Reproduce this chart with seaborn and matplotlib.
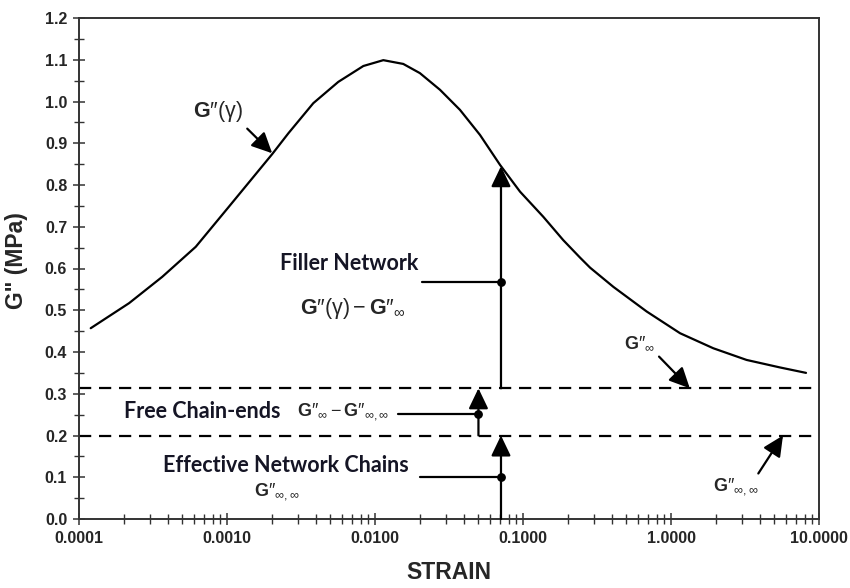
import numpy as np
import matplotlib
matplotlib.use("Agg")
import matplotlib.pyplot as plt
import seaborn as sns
from matplotlib.ticker import LogLocator, MultipleLocator, NullFormatter

# G''(strain) curve
strain = [0.000120, 0.000218, 0.000365, 0.000615, 0.00103, 0.00202, 0.00260,
          0.00383, 0.00565, 0.00834, 0.01138, 0.01552, 0.0201, 0.0275,
          0.0375, 0.0512, 0.0700, 0.0955, 0.137, 0.187, 0.243, 0.284,
          0.408, 0.685, 1.151, 1.93, 3.24, 5.45, 8.17]
g_loss = [0.457, 0.517, 0.580, 0.652, 0.748, 0.874, 0.924,
          0.996, 1.047, 1.085, 1.099, 1.090, 1.068, 1.028,
          0.980, 0.920, 0.848, 0.784, 0.724, 0.668, 0.626, 0.602,
          0.556, 0.497, 0.445, 0.409, 0.381, 0.363, 0.350]

# plateau levels (dashed lines)
g_inf = 0.313
g_inf_inf = 0.20

# contribution arrows: strain position, tip value, dot value
filler_x, filler_tip, filler_dot = 0.071, 0.845, 0.568
ends_x, ends_dot = 0.05, 0.251
network_x, network_dot = 0.071, 0.10

x_ticks = [0.0001, 0.001, 0.01, 0.1, 1, 10]
x_labels = ["0.0001", "0.0010", "0.0100", "0.1000", "1.0000", "10.0000"]
y_ticks = [0.0, 0.1, 0.2, 0.3, 0.4, 0.5, 0.6, 0.7, 0.8, 0.9, 1.0, 1.1, 1.2]
y_labels = ["0.0", "0.1", "0.2", "0.3", "0.4", "0.5", "0.6", "0.7", "0.8", "0.9", "1.0", "1.1", "1.2"]

sns.set_style("ticks")
plt.rcParams["font.family"] = ["Liberation Sans", "DejaVu Sans"]
plt.rcParams["mathtext.fontset"] = "custom"
plt.rcParams["mathtext.rm"] = "Liberation Sans"
plt.rcParams["mathtext.bf"] = "Liberation Sans:bold"
plt.rcParams["mathtext.it"] = "Liberation Sans:italic"
plt.rcParams["mathtext.fallback"] = "stixsans"

fig = plt.figure(figsize=(8.5, 5.88), dpi=100)
ax = fig.add_axes([79 / 850, 69 / 588, 740 / 850, 501 / 588])

sns.lineplot(x=strain, y=g_loss, ax=ax, color="black", lw=1.6, sort=False, estimator=None)

dash = (5.5, 3.5)
ax.axhline(g_inf, color="black", lw=1.6, dashes=dash)
ax.axhline(g_inf_inf, color="black", lw=1.6, dashes=dash)

ax.set_xscale("log")
ax.set_xlim(0.0001, 10)
ax.set_ylim(0, 1.2)

arrow = dict(arrowstyle="-|>,head_length=1.25,head_width=0.6", mutation_scale=10,
             lw=1.6, color="black", shrinkA=0, shrinkB=0)

# vertical arrows for each contribution
ax.annotate("", xy=(filler_x, filler_tip), xytext=(filler_x, g_inf), arrowprops=arrow)
ax.annotate("", xy=(ends_x, g_inf), xytext=(ends_x, g_inf_inf), arrowprops=arrow)
ax.annotate("", xy=(network_x, g_inf_inf), xytext=(network_x, 0), arrowprops=arrow)

# leader lines and dots
ax.plot([0.0207, filler_x], [filler_dot, filler_dot], color="black", lw=1.6)
ax.plot([0.0144, ends_x], [ends_dot, ends_dot], color="black", lw=1.6)
ax.plot([0.0202, network_x], [network_dot, network_dot], color="black", lw=1.6)
ax.scatter([filler_x, ends_x, network_x], [filler_dot, ends_dot, network_dot],
           s=28, color="black", zorder=5)

# pointer arrows
ax.annotate("", xy=(0.00202, 0.876), xytext=(0.00137, 0.935), arrowprops=arrow)
ax.annotate("", xy=(1.34, g_inf), xytext=(0.83, 0.389), arrowprops=arrow)
ax.annotate("", xy=(5.71, g_inf_inf), xytext=(3.89, 0.109), arrowprops=arrow)

lbl = dict(family=["Lato", "DejaVu Sans"], fontweight="bold", fontsize=15.5, color="#151525")
big, small = 15.5, 13
G = r"\mathbf{G}\mathrm{″}"
ax.text(0.000869, 0.977, "$" + G + r"\mathrm{(γ)}$", fontsize=big, ha="center", va="center")
ax.text(0.00667, 0.613, "Filler Network", ha="center", va="center", **lbl)
ax.text(0.00709, 0.505, "$" + G + r"\mathrm{(γ)} - " + G + r"_{\infty}$",
        fontsize=big, ha="center", va="center")
ax.text(0.000201, 0.257, "Free Chain-ends", ha="left", va="center", **lbl)
ax.text(0.00296, 0.257, "$" + G + r"_{\infty} - " + G + r"_{\infty,\infty}$",
        fontsize=small, ha="left", va="center")
ax.text(0.00251, 0.129, "Effective Network Chains", ha="center", va="center", **lbl)
ax.text(0.00217, 0.066, "$" + G + r"_{\infty,\infty}$", fontsize=small, ha="center", va="center")
ax.text(0.608, 0.422, "$" + G + r"_{\infty}$", fontsize=small, ha="center", va="center")
ax.text(2.75, 0.078, "$" + G + r"_{\infty,\infty}$", fontsize=small, ha="center", va="center")

# axes and ticks
ax.set_xticks(x_ticks)
ax.set_xticklabels(x_labels, fontsize=11.5, fontweight="bold")
ax.xaxis.set_minor_locator(LogLocator(base=10, subs=np.arange(2, 10)))
ax.xaxis.set_minor_formatter(NullFormatter())
ax.set_yticks(y_ticks)
ax.set_yticklabels(y_labels, fontsize=11.5, fontweight="bold")
ax.yaxis.set_minor_locator(MultipleLocator(0.05))
ax.tick_params(which="major", direction="inout", length=9, width=1.1, color="#333333", pad=4)
ax.tick_params(which="minor", direction="inout", length=7, width=1.0, color="#333333")
for s in ax.spines.values():
    s.set_linewidth(1.4)
    s.set_color("#333333")

ax.set_xlabel("STRAIN", fontsize=16.5, fontweight="bold")
ax.set_ylabel('G" (MPa)', fontsize=16.5, fontweight="bold")
ax.xaxis.set_label_coords(0.5, -0.084)
ax.yaxis.set_label_coords(-0.069, 0.515)

fig.savefig("out.png", dpi=100)
